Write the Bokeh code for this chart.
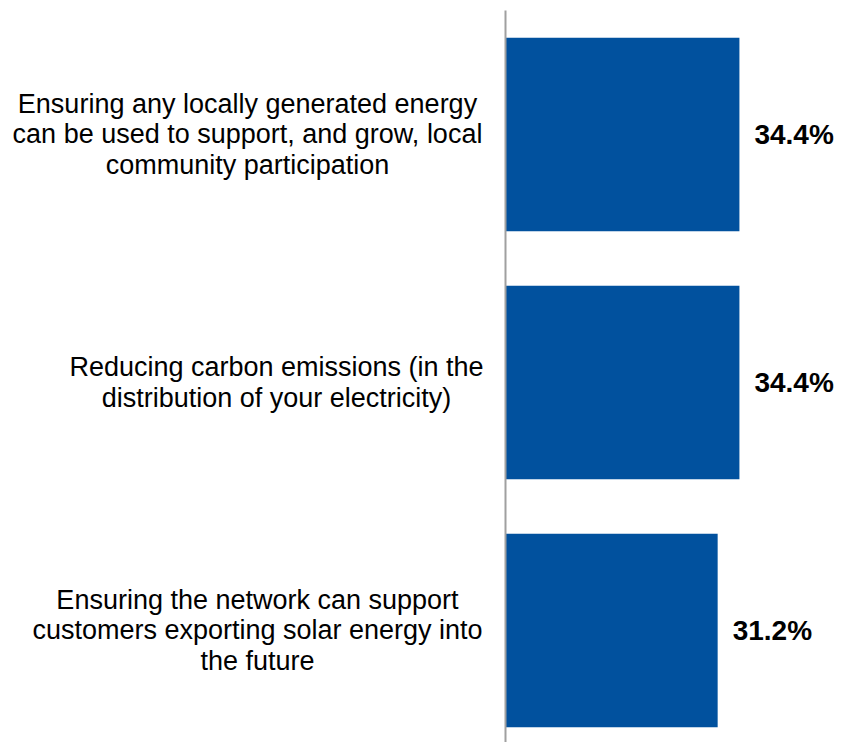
from bokeh.plotting import figure
from bokeh.models import Range1d, ColumnDataSource
from bokeh.core.properties import value
from bokeh.embed import file_html
from bokeh.resources import INLINE

categories = [
    "Ensuring any locally generated energy\ncan be used to support, and grow, local\ncommunity participation",
    "Reducing carbon emissions (in the\ndistribution of your electricity)",
    "Ensuring the network can support\ncustomers exporting solar energy into\nthe future",
]
values = [34.4, 34.4, 31.2]
value_labels = ["34.4%", "34.4%", "31.2%"]

# layout
W, H = 835, 742
PX_PER_UNIT = 6.8
ZERO_PX = 505
BAND_PX = 248
FIRST_CENTER_PX = 134
AXIS_TOP_PX = 10

x0 = -ZERO_PX / PX_PER_UNIT
x1 = (W - ZERO_PX) / PX_PER_UNIT
y_top = -FIRST_CENTER_PX / BAND_PX
y_bot = (H - FIRST_CENTER_PX) / BAND_PX
axis_top = (AXIS_TOP_PX - FIRST_CENTER_PX) / BAND_PX

ypos = list(range(len(categories)))
label_centers_px = [247, 276, 257]
label_x = [(c - ZERO_PX) / PX_PER_UNIT for c in label_centers_px]

p = figure(width=W, height=H, output_backend="svg", toolbar_location=None,
           x_range=Range1d(x0, x1), y_range=Range1d(y_bot, y_top),
           min_border=0, min_border_left=0, min_border_right=0,
           min_border_top=0, min_border_bottom=0)
p.axis.visible = False
p.grid.visible = False
p.outline_line_color = None
p.background_fill_color = "white"
p.border_fill_color = "white"

src = ColumnDataSource(dict(y=ypos, v=values, lbl=value_labels, cat=categories, lx=label_x))

p.hbar(y="y", right="v", left=0, height=0.78, source=src,
       fill_color="#01519E", line_color=None)

# axis line
p.segment(x0=[0], y0=[axis_top], x1=[0], y1=[y_bot], line_color="#A0A0A0", line_width=2)

p.text(x="v", y="y", text="lbl", source=src, x_offset=15,
       text_align="left", text_baseline="middle",
       text_font=value("Liberation Sans"), text_font_style="bold",
       text_font_size="28px", text_color="black")

p.text(x="lx", y="y", text="cat", source=src,
       text_align="center", text_baseline="middle",
       text_font=value("Liberation Sans"), text_font_size="27px",
       text_line_height=1.02, text_color="black")

open("out.html", "w").write(file_html(p, INLINE))
